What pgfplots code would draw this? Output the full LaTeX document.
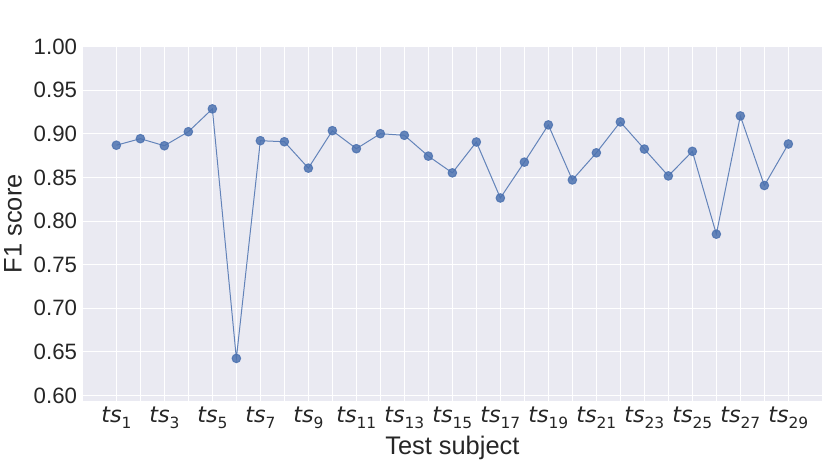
\documentclass[border=0pt]{standalone}
\usepackage{fontspec}
\setmainfont{Liberation Sans}
\newfontfamily\dvs{DejaVu Sans}
\usepackage{pgfplots}
\pgfplotsset{compat=1.18}
\definecolor{bg}{HTML}{EAEAF2}
\definecolor{sb}{HTML}{4C72B0}
\definecolor{txt}{HTML}{262626}
\newcommand\ts[1]{{\dvs\itshape ts}\raisebox{-0.25em}{\dvs\fontsize{15.5}{15.5}\selectfont #1}}
\begin{document}
\begin{tikzpicture}
\begin{axis}[name=ax, scale only axis, width=738.7bp, height=354bp,
  xmin=-0.39, xmax=30.39, ymin=0.594, ymax=1.0,
  axis background/.style={fill=bg},
  axis line style={draw=none},
  major tick length=0pt, minor tick length=0pt,
  xtick={1,3,5,7,9,11,13,15,17,19,21,23,25,27,29},
  minor xtick={2,4,6,8,10,12,14,16,18,20,22,24,26,28},
  xticklabels={\ts{1},\ts{3},\ts{5},\ts{7},\ts{9},\ts{11},\ts{13},\ts{15},\ts{17},\ts{19},\ts{21},\ts{23},\ts{25},\ts{27},\ts{29}},
  ytick={0.60,0.65,0.70,0.75,0.80,0.85,0.90,0.95,1.00},
  yticklabel style={xshift=-2.5bp, /pgf/number format/.cd, fixed, fixed zerofill, precision=2, assume math mode=true},
  grid=both,
  major grid style={white, line width=1.1bp},
  minor grid style={white, line width=1.1bp},
  tick label style={font=\fontsize{22.3}{22.3}\selectfont, text=txt},
  xticklabel style={yshift=-3bp},
  xlabel={Test subject}, ylabel={F1 score},
  label style={font=\fontsize{25.5}{25.5}\selectfont, text=txt},
  xlabel style={yshift=-1bp},
  ylabel style={yshift=5bp},
]
\addplot[color=sb, opacity=0.85, line width=1bp, mark=*, mark size=4.3bp, mark options={fill=sb, draw=sb}] coordinates {
(1,0.887) (2,0.8945) (3,0.8864) (4,0.9025) (5,0.9287) (6,0.6425) (7,0.8922) (8,0.891)
(9,0.8607) (10,0.9037) (11,0.883) (12,0.9002) (13,0.8984) (14,0.8745) (15,0.8553)
(16,0.8907) (17,0.8265) (18,0.8676) (19,0.9103) (20,0.8472) (21,0.8783) (22,0.9137)
(23,0.8826) (24,0.8518) (25,0.880) (26,0.785) (27,0.9206) (28,0.8408) (29,0.8884)
};
\end{axis}
\path (ax.south west) ++(-83bp,-60.3bp) coordinate (bl);
\path (ax.north east) ++(9.3bp,46.7bp) coordinate (tr);
\path (bl) rectangle (tr);
\end{tikzpicture}
\end{document}
